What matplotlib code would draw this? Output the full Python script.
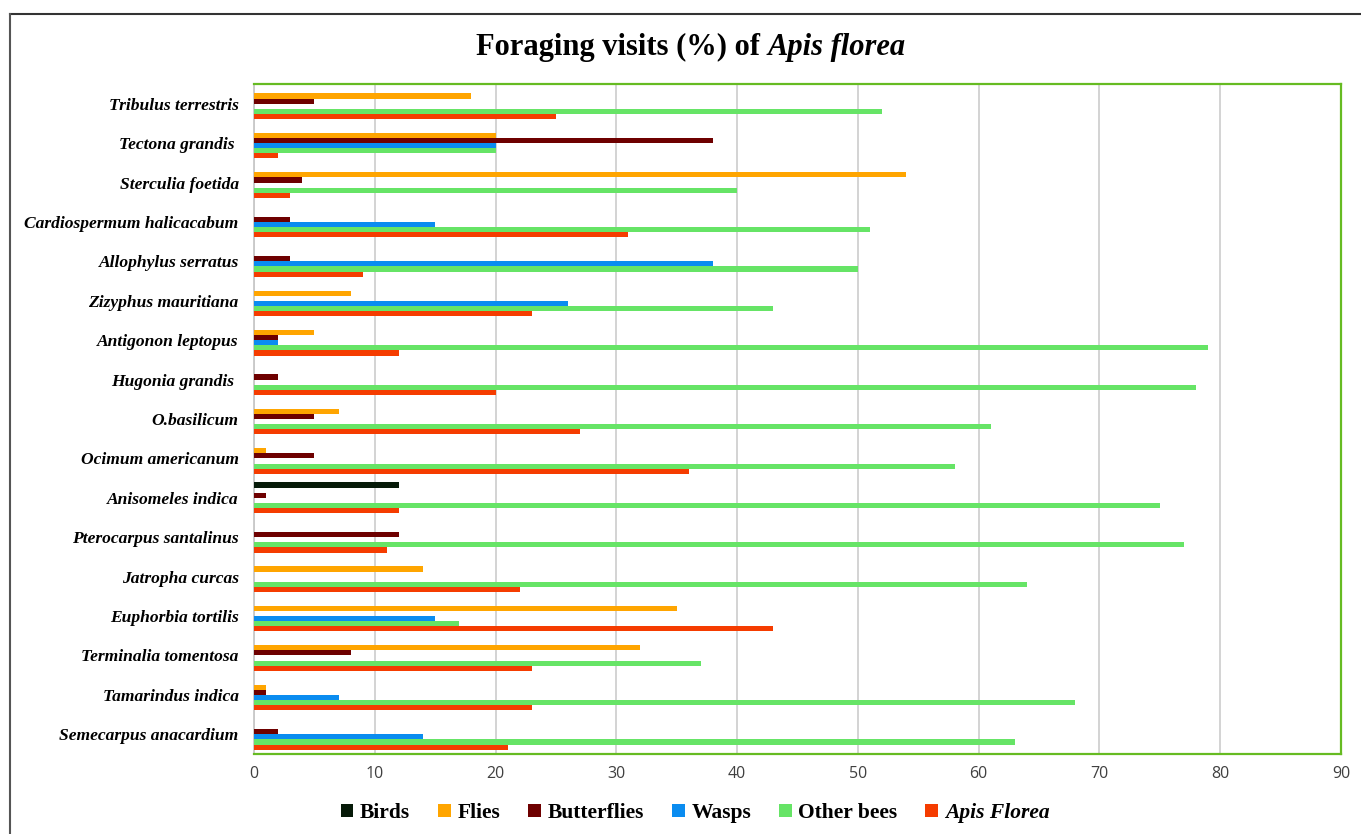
import matplotlib
matplotlib.use("Agg")
import matplotlib.pyplot as plt
import numpy as np
from matplotlib.lines import Line2D

plants = ["Tribulus terrestris", "Tectona grandis ", "Sterculia foetida",
          "Cardiospermum halicacabum", "Allophylus serratus", "Zizyphus mauritiana",
          "Antigonon leptopus", "Hugonia grandis ", "O.basilicum", "Ocimum americanum",
          "Anisomeles indica", "Pterocarpus santalinus", "Jatropha curcas",
          "Euphorbia tortilis", "Terminalia tomentosa", "Tamarindus indica",
          "Semecarpus anacardium"]

birds       = [0, 0, 0, 0, 0, 0, 0, 0, 0, 0, 12, 0, 0, 0, 0, 0, 0]
flies       = [18, 20, 54, 0, 0, 8, 5, 0, 7, 1, 0, 0, 14, 35, 32, 1, 0]
butterflies = [5, 38, 4, 3, 3, 0, 2, 2, 5, 5, 1, 12, 0, 0, 8, 1, 2]
wasps       = [0, 20, 0, 15, 38, 26, 2, 0, 0, 0, 0, 0, 0, 15, 0, 7, 14]
other_bees  = [52, 20, 40, 51, 50, 43, 79, 78, 61, 58, 75, 77, 64, 17, 37, 68, 63]
apis_florea = [25, 2, 3, 31, 9, 23, 12, 20, 27, 36, 12, 11, 22, 43, 23, 23, 21]

series = ["Birds", "Flies", "Butterflies", "Wasps", "Other bees", "Apis Florea"]
values = [birds, flies, butterflies, wasps, other_bees, apis_florea]
colors = ["#061a08", "#ffa500", "#6e0000", "#0a8cf0", "#66e466", "#f53c00"]

fig = plt.figure(figsize=(13.61, 8.34), dpi=100)
ax = fig.add_axes([254/1361, 1 - 754/834, (1341 - 254)/1361, (754 - 84)/834])

y = np.arange(len(plants))
h = 0.13
for k, (name, vals, c) in enumerate(zip(series, values, colors)):
    ax.barh(y + (k - 2.5) * h, vals, height=h, color=c, label=name, zorder=3)

ax.set_xlim(0, 90)
ax.set_ylim(len(plants) - 0.5, -0.5)
ax.set_xticks(np.arange(0, 91, 10))
ax.set_yticks(y)
ax.set_yticklabels(plants, fontfamily="Liberation Serif", fontweight="bold",
                   fontstyle="italic", fontsize=12.6)
ax.tick_params(axis="y", length=0, pad=11)
ax.tick_params(axis="x", length=0, pad=9, labelsize=11.5, labelcolor="#404040")
for lab in ax.get_xticklabels():
    lab.set_fontfamily("Open Sans")
ax.grid(axis="x", color="#d0d0d0", linewidth=1.3, zorder=0)
for side in ["top", "right", "bottom"]:
    ax.spines[side].set_color("#66bb22")
    ax.spines[side].set_linewidth(1.6)
ax.spines["left"].set_color("#c8c8c8")
ax.spines["left"].set_linewidth(1.3)

# title: upright part + italic part
t1 = fig.text(0, 1 - 47/834, "Foraging visits (%) of ", fontfamily="Liberation Serif",
              fontweight="bold", fontsize=22, va="center", ha="left")
t2 = fig.text(0, 1 - 47/834, "Apis florea", fontfamily="Liberation Serif",
              fontweight="bold", fontstyle="italic", fontsize=22, va="center", ha="left")
fig.canvas.draw()
r = fig.canvas.get_renderer()
w1 = t1.get_window_extent(r).width
w2 = t2.get_window_extent(r).width
x0 = 691 - (w1 + w2) / 2
t1.set_x(x0 / 1361)
t2.set_x((x0 + w1) / 1361)

leg = fig.legend(loc="center", bbox_to_anchor=(695/1361, 1 - 813/834), ncol=6,
                 frameon=False, handlelength=0.6, handleheight=0.6, handletextpad=0.3,
                 columnspacing=1.3,
                 prop={"family": "Liberation Serif", "weight": "bold", "size": 15.5})
leg.get_texts()[-1].set_fontstyle("italic")

# outer chart frame (top and left edges visible)
fig.add_artist(Line2D([10/1361, 1], [1 - 14/834, 1 - 14/834], color="#333333", linewidth=1.5))
fig.add_artist(Line2D([10/1361, 10/1361], [0, 1 - 14/834], color="#555555", linewidth=1.5))

fig.savefig("out.png", dpi=100)
